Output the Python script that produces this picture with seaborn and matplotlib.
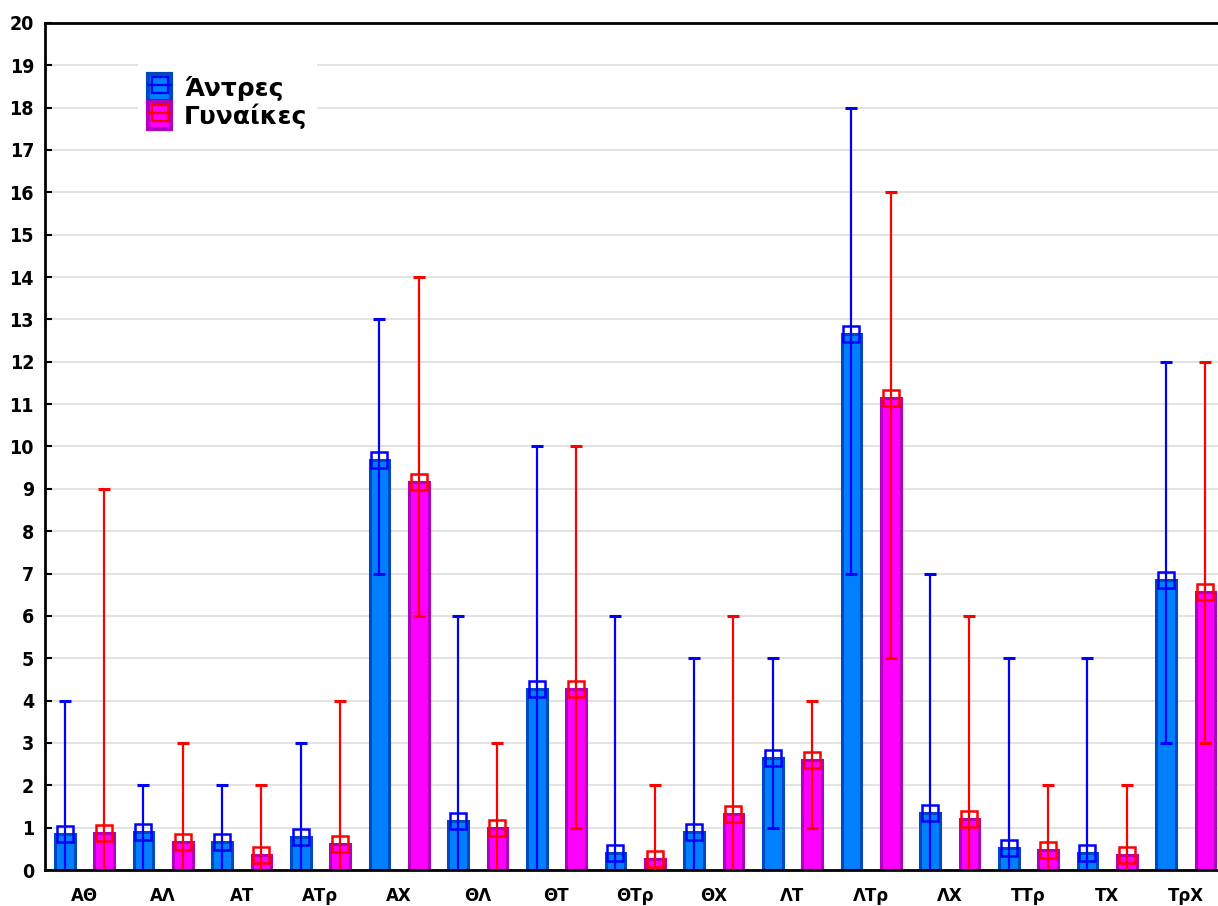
import numpy as np
import pandas as pd
import matplotlib
matplotlib.use("Agg")
import matplotlib.pyplot as plt
from matplotlib.patches import Patch
from matplotlib.lines import Line2D
from matplotlib.legend_handler import HandlerTuple
import seaborn as sns

# Pair categories
categories = ['ΑΘ', 'ΑΛ', 'ΑΤ', 'ΑΤρ', 'ΑΧ', 'ΘΛ', 'ΘΤ', 'ΘΤρ', 'ΘΧ',
              'ΛΤ', 'ΛΤρ', 'ΛΧ', 'ΤΤρ', 'ΤΧ', 'ΤρΧ']
groups = ['Άντρες', 'Γυναίκες']

# Mean values
men_mean = [0.85, 0.90, 0.66, 0.78, 9.67, 1.16, 4.28, 0.40, 0.90,
            2.64, 12.65, 1.34, 0.52, 0.40, 6.84]
women_mean = [0.87, 0.66, 0.35, 0.61, 9.15, 0.99, 4.27, 0.26, 1.32,
              2.60, 11.15, 1.20, 0.48, 0.35, 6.56]

# Range (min / max)
men_min = [0, 0, 0, 0, 7, 0, 0, 0, 0, 1, 7, 0, 0, 0, 3]
men_max = [4, 2, 2, 3, 13, 6, 10, 6, 5, 5, 18, 7, 5, 5, 12]
women_min = [0, 0, 0, 0, 6, 0, 1, 0, 0, 1, 5, 0, 0, 0, 3]
women_max = [9, 3, 2, 4, 14, 3, 10, 2, 6, 4, 16, 6, 2, 2, 12]

y_ticks = list(range(0, 21))

fill_colors = ['#0080ff', '#ff00ff']
edge_colors = ['#0048c0', '#b000c0']
line_colors = ['#0000ff', '#ff0000']

df = pd.DataFrame({
    'category': categories * 2,
    'group': [groups[0]] * len(categories) + [groups[1]] * len(categories),
    'value': men_mean + women_mean,
})

sns.set_theme(style='white')
plt.rcParams['font.family'] = ['DejaVu Sans']
plt.rcParams['text.color'] = 'black'
plt.rcParams['xtick.color'] = 'black'
plt.rcParams['ytick.color'] = 'black'
plt.rcParams['xtick.labelcolor'] = 'black'
plt.rcParams['ytick.labelcolor'] = 'black'

fig = plt.figure(figsize=(12.18, 9.06), dpi=100)
ax = fig.add_axes([0.037, 0.0397, 0.963, 0.935])

sns.barplot(data=df, x='category', y='value', hue='group', order=categories,
            hue_order=groups, palette=fill_colors, width=1.0, gap=0.5,
            linewidth=2.2, saturation=1, errorbar=None, legend=False, ax=ax,
            zorder=2)

for container, ec in zip(ax.containers, edge_colors):
    for bar in container:
        bar.set_edgecolor(ec)

ranges = [(men_mean, men_min, men_max), (women_mean, women_min, women_max)]
for container, (mean, lo, hi), lc in zip(ax.containers, ranges, line_colors):
    xs = np.array([b.get_x() + b.get_width() / 2 for b in container])
    mean = np.array(mean)
    lo = np.array(lo, dtype=float)
    hi = np.array(hi, dtype=float)
    ax.vlines(xs, lo, hi, colors=lc, linewidth=1.6, zorder=4)
    ax.plot(xs, hi, linestyle='none', marker='_', markersize=9,
            markeredgewidth=2.2, color=lc, zorder=4)
    pos = lo > 0
    ax.plot(xs[pos], lo[pos], linestyle='none', marker='_', markersize=9,
            markeredgewidth=2.2, color=lc, zorder=4)
    ax.plot(xs, mean, linestyle='none', marker='s', markersize=12,
            markerfacecolor='none', markeredgecolor=lc, markeredgewidth=1.8,
            zorder=5)

ax.set_xlim(-0.5, 14.41)
ax.set_ylim(0, 20)
ax.set_yticks(y_ticks)
ax.set_yticklabels([str(t) for t in y_ticks],
                   family=['Liberation Sans Narrow', 'DejaVu Sans'],
                   fontstretch='condensed', fontsize=14, fontweight='bold',
                   color='black')
ax.set_xticks(range(len(categories)))
ax.set_xticklabels(categories, fontsize=12, fontweight='bold', color='black')
ax.set_xlabel('')
ax.set_ylabel('')

ax.yaxis.grid(True, color='#dedede', linewidth=1.2, zorder=0)
ax.set_axisbelow(True)
ax.tick_params(axis='y', direction='in', length=5, width=1.5, color='black',
               left=True, pad=8)
ax.tick_params(axis='x', length=0, pad=12)

for side in ['left', 'top', 'bottom']:
    ax.spines[side].set_visible(True)
    ax.spines[side].set_color('black')
    ax.spines[side].set_linewidth(2)
ax.spines['right'].set_visible(False)

handles = []
for fc, ec, lc in zip(fill_colors, edge_colors, line_colors):
    patch = Patch(facecolor=fc, edgecolor=ec, linewidth=3)
    mark = Line2D([], [], color=lc, linewidth=1.6, marker='s', markersize=12,
                  markerfacecolor='none', markeredgecolor=lc,
                  markeredgewidth=1.6)
    handles.append((patch, mark))

leg = ax.legend(handles, groups, handler_map={tuple: HandlerTuple(ndivide=1)},
                loc='upper left', bbox_to_anchor=(0.079, 0.952),
                borderaxespad=0,
                prop={'family': 'DejaVu Sans', 'weight': 'bold', 'size': 18},
                frameon=True, facecolor='white', edgecolor='none',
                fancybox=False, framealpha=1, handlelength=0.95,
                handleheight=1.3, labelspacing=0.05, handletextpad=0.5,
                borderpad=0.4)
for t in leg.get_texts():
    t.set_color('black')

fig.savefig('out.png', dpi=100)
